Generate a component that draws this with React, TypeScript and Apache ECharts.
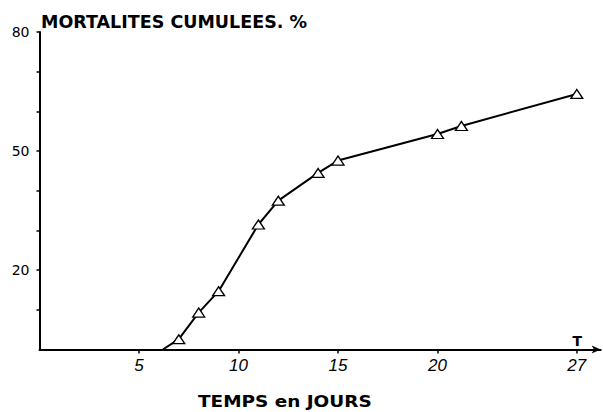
import React, { useEffect, useRef } from "react";
import * as echarts from "echarts";

const days = [6.2, 7, 8, 9, 11, 12, 14, 15, 20, 21.2, 27];
const mortality = [0, 2.6, 9.3, 14.7, 31.5, 37.5, 44.5, 47.6, 54.3, 56.3, 64.4];
const xTicks = [5, 10, 15, 20, 27];
const yTicks = [10, 20, 30, 40, 50, 60, 70, 80];
const yLabels = [20, 50, 80];
const titleText = "MORTALITES CUMULEES. %";
const xAxisTitle = "TEMPS en JOURS";
const endMark = "T";

const FONT = "DejaVu Sans";
const FONT2 = "Liberation Sans";

export default function App() {
  const ref = useRef<HTMLDivElement>(null);
  useEffect(() => {
    if (!ref.current) return;
    const chart = echarts.init(ref.current, null, { renderer: "svg" });
    const data = days.map((d, i) =>
      i === 0
        ? { value: [d, mortality[i]], symbol: "none" }
        : { value: [d, mortality[i]] }
    );
    chart.setOption({
      animation: false,
      backgroundColor: "#fff",
      grid: {
        left: 39.5,
        top: 32,
        right: 2.3,
        bottom: 62.5,
        containLabel: false,
        outerBoundsMode: "none",
      },
      xAxis: {
        type: "value",
        min: 0,
        max: 28.2,
        interval: 1,
        splitLine: { show: false },
        axisLine: {
          show: true,
          lineStyle: { color: "#000", width: 2 },
          symbol: ["none", "arrow"],
          symbolSize: [6, 9],
        },
        axisTick: {
          show: true,
          customValues: xTicks,
          length: 4,
          lineStyle: { color: "#000", width: 1.5 },
        },
        axisLabel: {
          customValues: xTicks,
          color: "#000",
          fontFamily: FONT2,
          fontStyle: "italic",
          fontSize: 17,
          margin: 7,
        },
      },
      yAxis: {
        type: "value",
        min: 0,
        max: 80,
        interval: 10,
        splitLine: { show: false },
        axisLine: { show: true, lineStyle: { color: "#000", width: 2 } },
        axisTick: {
          show: true,
          customValues: yTicks,
          length: 3,
          lineStyle: { color: "#000", width: 1.5 },
        },
        axisLabel: {
          customValues: yLabels,
          color: "#000",
          fontFamily: FONT,
          fontSize: 14,
          margin: 10,
          padding: [0, 0, 3, 0],
        },
      },
      graphic: [
        {
          type: "text",
          x: 41,
          y: 13.5,
          scaleX: 1.03,
          style: {
            text: titleText,
            fill: "#000",
            font: `bold 17px "${FONT}"`,
            verticalAlign: "top",
          },
        },
        {
          type: "text",
          x: 198,
          y: 394.5,
          scaleX: 1.23,
          style: {
            text: xAxisTitle,
            fill: "#000",
            font: `bold 15px "${FONT}"`,
            verticalAlign: "top",
          },
        },
        {
          type: "text",
          x: 572.5,
          y: 334,
          style: {
            text: endMark,
            fill: "#000",
            font: `bold 14px "${FONT}"`,
            verticalAlign: "top",
          },
        },
      ],
      series: [
        {
          type: "line",
          data,
          symbol: "triangle",
          symbolSize: [12, 9],
          showAllSymbol: true,
          lineStyle: { color: "#000", width: 2 },
          itemStyle: { color: "#fff", borderColor: "#000", borderWidth: 1.3 },
          z: 5,
        },
      ],
    });
    return () => chart.dispose();
  }, []);
  return (
    <div
      ref={ref}
      style={{ position: "fixed", left: 0, top: 0, width: 603, height: 412 }}
    />
  );
}
